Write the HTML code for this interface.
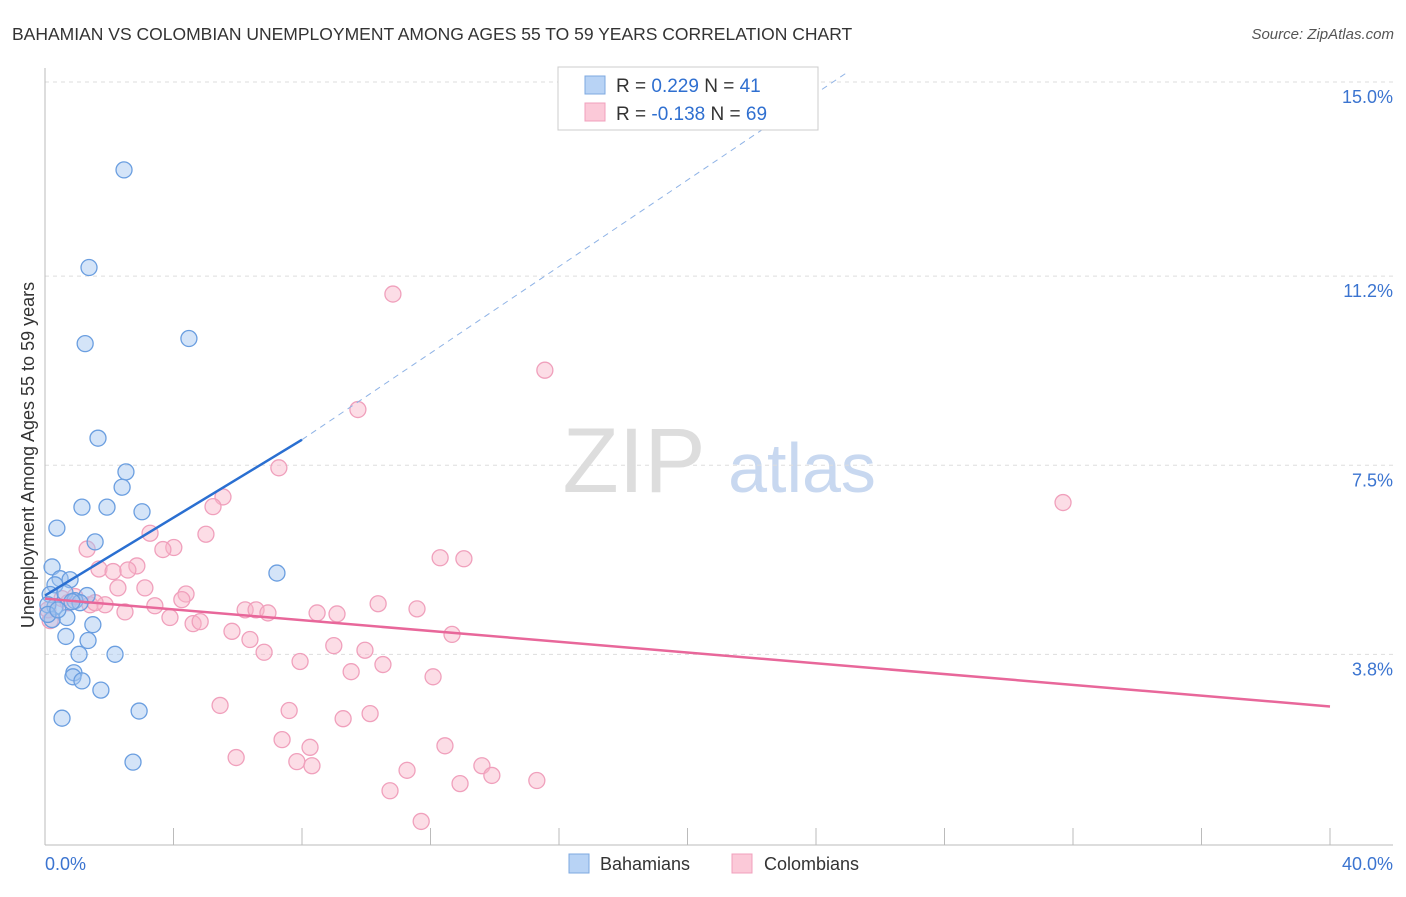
<!DOCTYPE html>
<html><head><meta charset="utf-8"><style>
body{margin:0;background:#fff;font-family:"Liberation Sans",sans-serif}
svg text{font-family:"Liberation Sans",sans-serif}
</style></head><body>
<svg id="chart" width="1406" height="892" xmlns="http://www.w3.org/2000/svg">
<text x="12" y="40" font-size="17.5" fill="#333">BAHAMIAN VS COLOMBIAN UNEMPLOYMENT AMONG AGES 55 TO 59 YEARS CORRELATION CHART</text>
<text x="1394" y="39" font-size="15" fill="#555" text-anchor="end" font-style="italic">Source: ZipAtlas.com</text>
<text x="634" y="492" font-size="92" fill="#ddd" text-anchor="middle" font-family="Liberation Serif">ZIP</text>
<text x="802" y="492" font-size="70" fill="#c8d8f0" text-anchor="middle">atlas</text>
<g id="grid"></g><g id="axes"></g><g id="marks"></g>
<text transform="translate(34,455) rotate(-90)" font-size="18" fill="#333" text-anchor="middle">Unemployment Among Ages 55 to 59 years</text>
<g>
<rect x="558" y="67" width="260" height="63" fill="#fff" stroke="#ccc"/>
<rect x="585" y="76" width="20" height="18" fill="#b8d3f5" stroke="#7ea8e0"/>
<rect x="585" y="103" width="20" height="18" fill="#fbc9d8" stroke="#f0a0bc"/>
<text x="616" y="92" font-size="19" fill="#333">R = <tspan fill="#2f6fd0">0.229</tspan>   N = <tspan fill="#2f6fd0">41</tspan></text>
<text x="616" y="120" font-size="19" fill="#333">R = <tspan fill="#2f6fd0">-0.138</tspan>   N = <tspan fill="#2f6fd0">69</tspan></text>
</g>
<g>
<rect x="569" y="854" width="20" height="19" fill="#b8d3f5" stroke="#7ea8e0"/>
<text x="600" y="870" font-size="18" fill="#333">Bahamians</text>
<rect x="732" y="854" width="20" height="19" fill="#fbc9d8" stroke="#f0a0bc"/>
<text x="764" y="870" font-size="18" fill="#333">Colombians</text>
</g>
</svg>
<script>
const yTicks=[3.8,7.5,11.2,15.0];
const yTickLabels=["3.8%","7.5%","11.2%","15.0%"];
const xTicks=[0,4,8,12,16,20,24,28,32,36,40];
const blueX=[2.46,1.37,1.25,4.48,1.65,2.52,2.40,1.15,1.93,3.02,0.37,1.56,0.22,7.22,0.47,0.78,0.31,0.16,0.62,1.31,0.93,1.09,0.31,0.09,0.68,0.22,1.49,0.65,1.34,1.06,2.18,0.90,0.87,1.15,1.74,0.53,2.93,2.74,0.09,0.40,0.84];
const blueY=[13.28,11.37,9.88,9.98,8.03,7.37,7.07,6.68,6.68,6.59,6.27,6.00,5.51,5.39,5.28,5.26,5.16,4.97,5.01,4.95,4.85,4.81,4.73,4.77,4.52,4.48,4.38,4.15,4.07,3.80,3.80,3.44,3.36,3.28,3.10,2.55,2.69,1.69,4.58,4.67,4.83];
const pinkX=[10.83,15.56,9.74,7.28,5.54,5.23,31.69,3.27,5.01,1.31,4.01,3.67,12.30,13.04,1.68,2.12,2.86,2.58,3.11,2.27,4.39,4.26,3.42,2.49,1.40,1.87,6.23,6.57,6.94,10.37,11.58,8.47,9.09,3.89,4.61,4.83,5.82,6.38,12.67,8.99,9.96,6.82,7.94,10.52,9.53,12.08,5.45,7.60,10.12,9.28,7.38,8.25,5.95,12.45,13.60,7.84,8.31,13.91,11.27,15.31,12.92,10.74,11.71,0.16,0.53,0.93,0.09,0.72,1.56];
const pinkY=[10.85,9.36,8.59,7.45,6.88,6.69,6.77,6.17,6.15,5.86,5.89,5.85,5.69,5.67,5.47,5.42,5.53,5.45,5.10,5.10,4.98,4.87,4.75,4.63,4.77,4.77,4.67,4.67,4.61,4.79,4.69,4.61,4.59,4.52,4.40,4.44,4.25,4.09,4.19,3.97,3.88,3.84,3.66,3.60,3.46,3.36,2.80,2.70,2.64,2.54,2.13,1.98,1.78,2.01,1.62,1.70,1.62,1.43,1.53,1.33,1.27,1.13,0.53,4.46,4.89,4.93,4.67,4.81,4.81];
const blueLine={x0:0,y0:4.95,x1:8,y1:8.0,x2:25,y2:15.2};
const pinkLine={x0:0,y0:4.89,x1:40,y1:2.78};
const NS="http://www.w3.org/2000/svg";
const X=v=>45+v*32.125, Y=v=>82+(15-v)*51.1;
function mk(tag,attrs,parent,name){const e=document.createElementNS(NS,tag);for(const k in attrs)e.setAttribute(k,attrs[k]);


document.getElementById(parent).appendChild(e);return e;}
yTicks.forEach((t,i)=>{mk('line',{x1:45,x2:1393,y1:Y(t),y2:Y(t),stroke:'#ddd','stroke-dasharray':'4,4'},'grid','y-gridline');
const tx=mk('text',{x:1393,y:Y(t)+21,'font-size':18,fill:'#3b74d0','text-anchor':'end'},'axes','y-tick-label');tx.textContent=yTickLabels[i];});
mk('line',{x1:45,x2:45,y1:68,y2:845,stroke:'#bbb'},'axes','y-axis-line');
mk('line',{x1:45,x2:1393,y1:845,y2:845,stroke:'#bbb'},'axes','x-axis-line');
xTicks.forEach(t=>{if(t>0)mk('line',{x1:X(t),x2:X(t),y1:828,y2:845,stroke:'#bbb'},'axes','x-tick');});
let a=mk('text',{x:45,y:870,'font-size':18,fill:'#3b74d0'},'axes','x-min-label');a.textContent='0.0%';
a=mk('text',{x:1393,y:870,'font-size':18,fill:'#3b74d0','text-anchor':'end'},'axes','x-max-label');a.textContent='40.0%';
pinkX.forEach((v,i)=>mk('circle',{cx:X(v),cy:Y(pinkY[i]),r:8,fill:'rgba(248,180,200,0.45)',stroke:'#f0a0bc','stroke-width':1.3},'marks','colombian-point'));
blueX.forEach((v,i)=>mk('circle',{cx:X(v),cy:Y(blueY[i]),r:8,fill:'rgba(160,195,240,0.45)',stroke:'#6a9ee0','stroke-width':1.3},'marks','bahamian-point'));
mk('line',{x1:X(pinkLine.x0),y1:Y(pinkLine.y0),x2:X(pinkLine.x1),y2:Y(pinkLine.y1),stroke:'#e8679a','stroke-width':2.5},'marks','colombian-trendline');
mk('line',{x1:X(blueLine.x0),y1:Y(blueLine.y0),x2:X(blueLine.x1),y2:Y(blueLine.y1),stroke:'#2a6fd1','stroke-width':2.5},'marks','bahamian-trendline');
mk('line',{x1:X(blueLine.x1),y1:Y(blueLine.y1),x2:X(blueLine.x2),y2:Y(blueLine.y2),stroke:'#8fb3e6','stroke-width':1,'stroke-dasharray':'6,5'},'marks','bahamian-trend-extension');
</script>
</body></html>
